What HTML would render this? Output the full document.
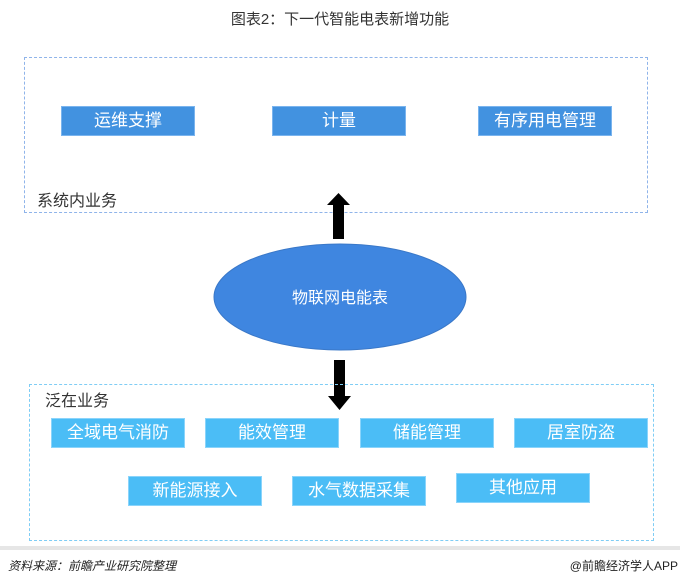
<!DOCTYPE html>
<html><head><meta charset="utf-8"><style>
body{margin:0;width:680px;height:585px;background:#fff;position:relative;overflow:hidden;font-family:"Liberation Sans","Noto Sans CJK SC",sans-serif}
.a{position:absolute}
.b{position:absolute;height:28px;line-height:28px;text-align:center;color:#fff;font-size:17px;width:134px}
.t{background:#4292e0;border:1px solid #7ab4ee;box-sizing:border-box;height:30px;line-height:28px}
.c{background:#4bbdf6;border:1px solid #8ad4fb;box-sizing:border-box;height:30px;line-height:28px}
</style></head><body>
<div class="a" style="left:0;width:680px;top:8px;text-align:center;font-size:15px;color:#333">图表2：下一代智能电表新增功能</div>
<div class="a" style="left:24px;top:57px;width:624px;height:156px;border:1px dashed #8fb4ea;box-sizing:border-box"></div>
<div class="b t" style="left:61px;top:106px">运维支撑</div>
<div class="b t" style="left:272px;top:106px">计量</div>
<div class="b t" style="left:478px;top:106px">有序用电管理</div>
<div class="a" style="left:37px;top:187px;font-size:16px;color:#333">系统内业务</div>
<svg class="a" style="left:0;top:0" width="680" height="585">
<polygon points="333,239 344,239 344,205 350,205 338.5,193 327,205 333,205" fill="#000"/>
<ellipse cx="340" cy="297" rx="126" ry="53" fill="#3f86e0" stroke="#3a78c8"/>
<text x="340" y="303" text-anchor="middle" fill="#fff" font-size="16" font-family="Liberation Sans,Noto Sans CJK SC,sans-serif">物联网电能表</text>
<polygon points="334,360 345,360 345,396 351,396 339.5,410 328,396 334,396" fill="#000"/>
</svg>
<div class="a" style="left:29px;top:384px;width:625px;height:157px;border:1px dashed #7fcdf5;box-sizing:border-box"></div>
<div class="a" style="left:45px;top:387px;font-size:16px;color:#333">泛在业务</div>
<div class="b c" style="left:51px;top:418px">全域电气消防</div>
<div class="b c" style="left:205px;top:418px">能效管理</div>
<div class="b c" style="left:360px;top:418px">储能管理</div>
<div class="b c" style="left:514px;top:418px">居室防盗</div>
<div class="b c" style="left:128px;top:476px">新能源接入</div>
<div class="b c" style="left:292px;top:476px">水气数据采集</div>
<div class="b c" style="left:456px;top:473px">其他应用</div>
<div class="a" style="left:0;top:546px;width:680px;height:4px;background:#e6e6e6"></div>
<div class="a" style="left:8px;top:557px;font-size:12px;font-style:italic;color:#222">资料来源：前瞻产业研究院整理</div>
<div class="a" style="right:2px;top:557px;font-size:12px;color:#222">@前瞻经济学人APP</div>
</body></html>
